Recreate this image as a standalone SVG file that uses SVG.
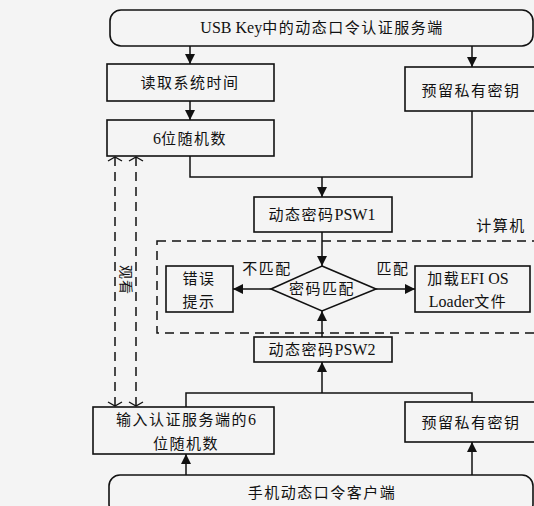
<svg xmlns="http://www.w3.org/2000/svg" width="534" height="506" viewBox="0 0 534 506">
<defs>
<style>
.box{fill:none;stroke:#111;stroke-width:1.6}
.ln{fill:none;stroke:#111;stroke-width:1.5}
.dash{fill:none;stroke:#111;stroke-width:1.5;stroke-dasharray:9,6}
.t{font-family:"Liberation Serif","Noto Sans CJK SC",serif;font-size:15px;fill:#111;text-anchor:middle;letter-spacing:1.5px}
.l{letter-spacing:0px;font-size:16px}
.v{font-size:14px;letter-spacing:1px}
</style>
<marker id="ah" markerUnits="userSpaceOnUse" markerWidth="12" markerHeight="12" refX="10" refY="5" orient="auto">
<path d="M0,0 L10,5 L0,10 Z" fill="#111"/>
</marker>
<marker id="oh" markerUnits="userSpaceOnUse" markerWidth="12" markerHeight="20" refX="7" refY="9" orient="auto-start-reverse">
<path d="M3,2 L7,9 L3,16" fill="none" stroke="#111" stroke-width="1.4"/>
</marker>
</defs>
<rect width="534" height="506" fill="#f4f4f4"/>

<g id="connectors">
<line class="ln" x1="190" y1="46" x2="190" y2="64" marker-end="url(#ah)"/>
<line class="ln" x1="472" y1="46" x2="472" y2="67" marker-end="url(#ah)"/>
<line class="ln" x1="190" y1="101" x2="190" y2="120" marker-end="url(#ah)"/>
<polyline class="ln" points="190,156 190,177 472,177 472,111"/>
<line class="ln" x1="322" y1="177" x2="322" y2="197" marker-end="url(#ah)"/>
<line class="ln" x1="322" y1="232" x2="322" y2="266" marker-end="url(#ah)"/>
<line class="ln" x1="271" y1="289" x2="233" y2="289" marker-end="url(#ah)"/>
<line class="ln" x1="376" y1="289" x2="415" y2="289" marker-end="url(#ah)"/>
<line class="ln" x1="322" y1="337" x2="322" y2="311" marker-end="url(#ah)"/>
<polyline class="ln" points="186,407 186,393 472,393 472,402"/>
<line class="ln" x1="322" y1="393" x2="322" y2="362" marker-end="url(#ah)"/>
<line class="ln" x1="186" y1="475" x2="186" y2="454" marker-end="url(#ah)"/>
<line class="ln" x1="472" y1="475" x2="472" y2="442" marker-end="url(#ah)"/>
<line class="dash" x1="115" y1="157" x2="115" y2="406" marker-start="url(#oh)" marker-end="url(#oh)"/>
<line class="dash" x1="136" y1="157" x2="136" y2="406" marker-start="url(#oh)" marker-end="url(#oh)"/>
<text class="t v" transform="translate(125.5,280) rotate(90)" dy="5">观看</text>
</g>

<g id="computer">
<rect class="dash" x="157" y="241" width="390" height="92"/>
<text class="t" x="501" y="231">计算机</text>
</g>

<g id="server">
<rect class="box" x="110" y="10" width="423" height="36" rx="11"/>
<text class="t" x="322" y="33"><tspan class="l">USB Key</tspan>中的动态口令认证服务端</text>
</g>
<g id="readtime">
<rect class="box" x="107" y="64" width="167" height="37"/>
<text class="t" x="190" y="88">读取系统时间</text>
</g>
<g id="key1">
<rect class="box" x="405" y="67" width="140" height="44"/>
<text class="t" x="471" y="96">预留私有密钥</text>
</g>
<g id="rand">
<rect class="box" x="107" y="120" width="167" height="36"/>
<text class="t" x="190" y="144"><tspan class="l">6</tspan>位随机数</text>
</g>
<g id="psw1">
<rect class="box" x="254" y="197" width="138" height="35"/>
<text class="t" x="322" y="220">动态密码<tspan class="l">PSW1</tspan></text>
</g>
<g id="match">
<polygon class="box" points="322,266 376,289 322,311 271,289"/>
<text class="t" x="322" y="294">密码匹配</text>
</g>
<g id="err">
<rect class="box" x="166" y="266" width="67" height="46"/>
<text class="t" x="199" y="284">错误</text>
<text class="t" x="199" y="307">提示</text>
</g>
<text class="t" x="267" y="274">不匹配</text>
<text class="t" x="393" y="274">匹配</text>
<g id="load">
<rect class="box" x="415" y="266" width="115" height="46"/>
<text class="t" x="468" y="284">加载<tspan class="l">EFI OS</tspan></text>
<text class="t" x="468" y="307"><tspan class="l">Loader</tspan>文件</text>
</g>
<g id="psw2">
<rect class="box" x="254" y="337" width="138" height="25"/>
<text class="t" x="322" y="355">动态密码<tspan class="l">PSW2</tspan></text>
</g>
<g id="input">
<rect class="box" x="93" y="407" width="181" height="47"/>
<text class="t" x="186" y="425">输入认证服务端的<tspan class="l">6</tspan></text>
<text class="t" x="186" y="449">位随机数</text>
</g>
<g id="key2">
<rect class="box" x="405" y="402" width="140" height="40"/>
<text class="t" x="471" y="428">预留私有密钥</text>
</g>
<g id="client">
<rect class="box" x="109" y="475" width="424" height="40" rx="11"/>
<text class="t" x="322" y="498">手机动态口令客户端</text>
</g>
</svg>
